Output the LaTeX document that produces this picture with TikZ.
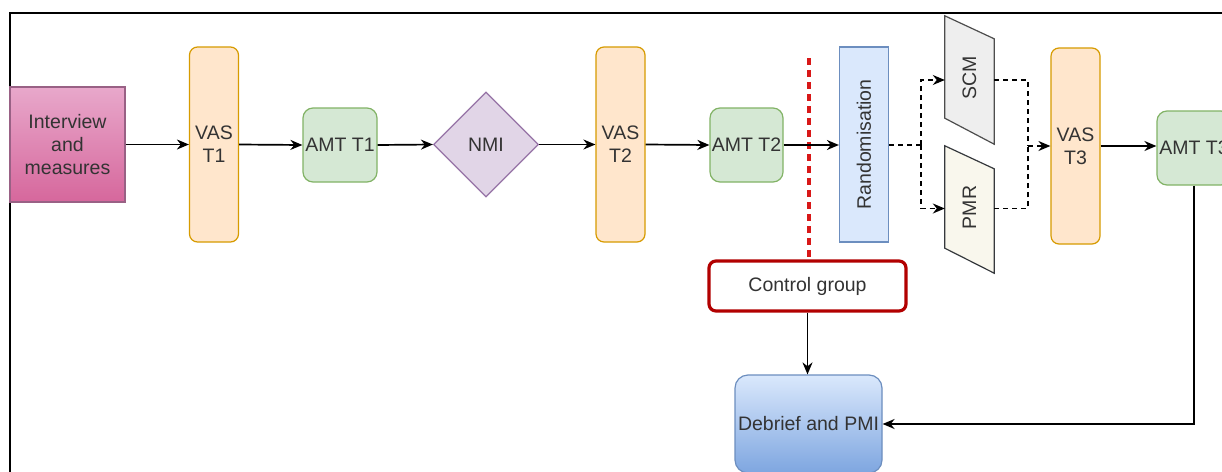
\documentclass[tikz,border=0pt]{standalone}
\usepackage{fontspec}
\setmainfont{Liberation Sans}
\usetikzlibrary{arrows.meta,shapes.geometric,calc}

\definecolor{txt}{HTML}{333333}
\definecolor{vasfill}{HTML}{FFE6CC}\definecolor{vasdraw}{HTML}{D79B00}
\definecolor{amtfill}{HTML}{D5E8D4}\definecolor{amtdraw}{HTML}{82B366}
\definecolor{nmifill}{HTML}{E1D5E7}\definecolor{nmidraw}{HTML}{9673A6}
\definecolor{bluefill}{HTML}{DAE8FC}\definecolor{bluedraw}{HTML}{6C8EBF}
\definecolor{bluedeep}{HTML}{7EA6E0}
\definecolor{pinktop}{HTML}{E8A8CB}\definecolor{pinkbot}{HTML}{D6679C}
\definecolor{pinkdraw}{HTML}{996185}
\definecolor{grayfill}{HTML}{EEEEEE}\definecolor{graydraw}{HTML}{4D4D4D}
\definecolor{creamfill}{HTML}{F9F7ED}\definecolor{creamdraw}{HTML}{36393D}
\definecolor{ctrlred}{HTML}{B20000}
\definecolor{splitred}{HTML}{D81818}

\tikzset{
  label text/.style={inner sep=0pt, text=txt, align=center,
    font=\fontsize{19.5}{23}\selectfont},
  box/.style={label text, draw, line width=1.2pt},
  vasbox/.style={box, rounded corners=8pt, fill=vasfill, draw=vasdraw,
    minimum width=49pt, minimum height=195pt},
  amtbox/.style={box, rounded corners=10pt, fill=amtfill, draw=amtdraw,
    minimum width=74pt, minimum height=74pt},
  slanted/.style={inner sep=0pt, minimum width=49pt},
  tip/.style={-{Stealth[length=12pt,width=10pt]}},
  link/.style={line width=1.7pt, tip},
  dashlink/.style={line width=1.5pt, dash pattern=on 5pt off 4pt},
}

\begin{document}
\begin{tikzpicture}[x=1pt,y=-1pt]
\clip (0,0) rectangle (1222,471);
\fill[white] (0,0) rectangle (1222,471);

% outer frame
\draw[line width=2.2pt] (10,475) -- (10,13) -- (1230,13);

% main row
\node[box, minimum width=115pt, minimum height=115pt, draw=pinkdraw,
      top color=pinktop, bottom color=pinkbot] (intv) at (67.5,144.5)
      {Interview\\and\\measures};
\node[vasbox] (vas1) at (214,144.5) {VAS\\T1};
\node[amtbox] (amt1) at (340,145) {AMT T1};
\node[box, diamond, aspect=1, minimum width=105pt, minimum height=105pt,
      fill=nmifill, draw=nmidraw] (nmi) at (486,144.5) {NMI};
\node[vasbox] (vas2) at (620.5,144.5) {VAS\\T2};
\node[amtbox, minimum width=73pt] (amt2) at (746.5,145) {AMT T2};
\node[box, fill=bluefill, draw=bluedraw, minimum width=49pt, minimum height=195pt]
      (rnd) at (864,144.5) {};
\node[label text, rotate=90] at (rnd.center) {Randomisation};

% the two arms, drawn as slanted panels
\node[slanted, minimum height=128pt] (scm) at (969.5,80) {};
\filldraw[line width=1.2pt, fill=grayfill, draw=graydraw]
  (scm.north west) -- ([yshift=-23pt]scm.north east) -- (scm.south east)
  -- ([yshift=26pt]scm.south west) -- cycle;
\node[label text, rotate=90] at ($(scm.center)+(0,-2)$) {SCM};

\node[slanted, minimum height=127pt] (pmr) at (969.5,209.5) {};
\filldraw[line width=1.2pt, fill=creamfill, draw=creamdraw]
  (pmr.north west) -- ([yshift=-23pt]pmr.north east) -- (pmr.south east)
  -- ([yshift=25pt]pmr.south west) -- cycle;
\node[label text, rotate=90] at ($(pmr.center)+(0,-2)$) {PMR};

\node[vasbox, minimum height=196pt] (vas3) at (1075.5,146) {VAS\\T3};
\node[amtbox] (amt3) at (1194,148) {AMT T3};

% control branch
\coordinate (cut) at (809,58);
\draw[splitred, line width=3.2pt, dash pattern=on 7pt off 5pt] (cut) -- (809,262);
\node[box, rounded corners=7pt, line width=3.2pt, draw=ctrlred, fill=white,
      minimum width=197pt, minimum height=50pt] (ctrl) at (807.5,286) {Control group};
\node[box, rounded corners=13pt, draw=bluedraw, top color=bluefill, bottom color=bluedeep,
      minimum width=147pt, minimum height=98pt] (debr) at (808.5,424) {Debrief and PMI};

% connectors
\draw[link] (intv.east) -- (vas1.west |- intv.east);
\draw[link] (vas1.east) -- (amt1.west);
\draw[link] (amt1.east) -- (nmi.west);
\draw[link] (nmi.east) -- (vas2.west |- nmi.east);
\draw[link] (vas2.east) -- (amt2.west);
\draw[link] (amt2.east) -- (rnd.west |- amt2.east);

\coordinate (split) at (921,145);
\coordinate (join) at (1028,146);
\draw[dashlink] (rnd.east |- split) -- (split);
\draw[dashlink, tip] (split) |- (scm.west);
\draw[dashlink, tip] (split) |- ($(pmr.west)+(0,-1)$);
\draw[dashlink] (scm.east) -| (join);
\draw[dashlink] ($(pmr.east)+(0,-1)$) -| (join);
\draw[dashlink, tip] (join) -- (vas3.west);
\draw[link] (vas3.east) -- (amt3.west |- vas3.east);

\draw[link] (ctrl.south) -- (ctrl.south |- debr.north);
\draw[link] (amt3.south) |- (debr.east);
\end{tikzpicture}
\end{document}
